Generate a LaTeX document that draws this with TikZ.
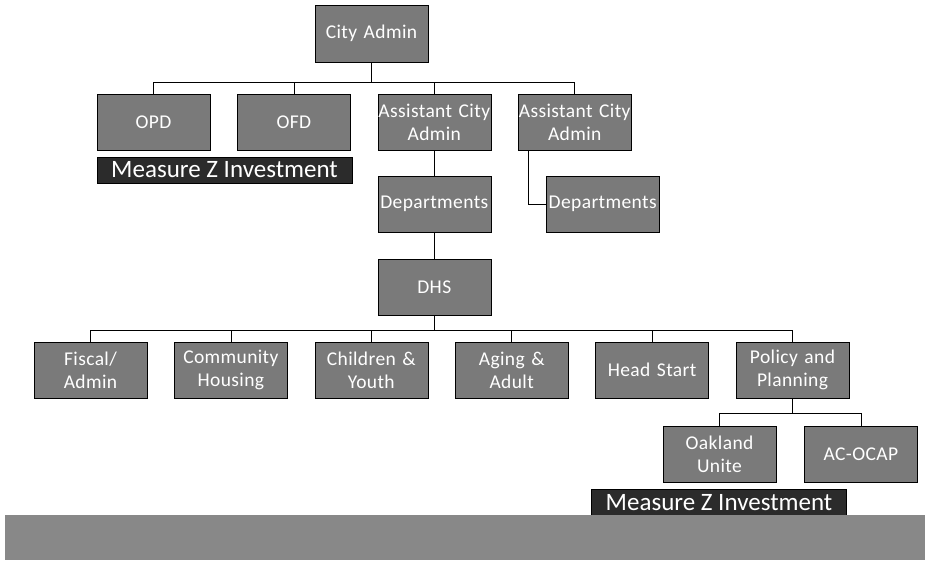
\documentclass[tikz,border=0pt]{standalone}
\usepackage{fontspec}
\setmainfont{Carlito}
\newfontfamily\unitfont[LetterSpace=2]{Carlito}
\usepackage{xcolor}
\usetikzlibrary{positioning}
\definecolor{unitgray}{HTML}{7A7A7A}
\definecolor{funddark}{HTML}{2B2B2B}
\definecolor{bandgray}{HTML}{888888}

\begin{document}
\begin{tikzpicture}[x=1pt, y=-1pt,
    unit/.style={rectangle, draw=black, fill=unitgray, text=white, text width=113pt, minimum height=56pt, inner sep=0pt, align=center, font=\unitfont\fontsize{19.5}{23}\selectfont},
    fund/.style={rectangle, draw=black, fill=funddark, text=white, minimum width=255pt, minimum height=26pt, inner sep=1pt, font=\fontsize{25}{26}\selectfont},
    link/.style={draw=black, line width=0.8pt}
]
    \useasboundingbox (0,0) rectangle (927,562);

    % Top
    \node[unit, minimum height=57pt] (cityadmin) at (371.5,33.5) {City Admin};

    % Second row
    \node[unit] (opd) at (153.5,122.5) {OPD};
    \node[unit, right=27pt of opd] (ofd) {OFD};
    \node[unit, right=27pt of ofd] (acaone) {Assistant City\\Admin};
    \node[unit, right=27pt of acaone] (acatwo) {Assistant City\\Admin};
    \node[fund] (fundone) at (224.5,170) {Measure Z Investment};

    % Departments and DHS
    \node[unit, below=25pt of acaone] (deptone) {Departments};
    \node[unit, right=55pt of deptone] (depttwo) {Departments};
    \node[unit, below=27pt of deptone] (dhs) {DHS};

    % DHS divisions
    \node[unit] (fiscal) at (90.5,370) {Fiscal/\\Admin};
    \node[unit, right=27pt of fiscal] (housing) {Community\\Housing};
    \node[unit, right=27pt of housing] (youth) {Children \&\\Youth};
    \node[unit, right=27pt of youth] (aging) {Aging \&\\Adult};
    \node[unit, right=27pt of aging] (headstart) {Head Start};
    \node[unit, right=27pt of headstart] (policy) {Policy and\\Planning};

    % Policy and Planning units
    \node[unit] (oakland) at (719.5,454.5) {Oakland\\Unite};
    \node[unit, right=28pt of oakland] (acocap) {AC-OCAP};
    \node[fund] (fundtwo) at (719,502.5) {Measure Z Investment};

    % Bottom band
    \fill[bandgray] (5,515) rectangle (925,560);

    % Connectors
    \foreach \n in {opd,ofd,acaone,acatwo}
        \draw[link] (cityadmin.south) -- ++(0,20) -| (\n.north);
    \draw[link] (acaone) -- (deptone);
    \draw[link] (deptone) -- (dhs);
    \draw[link] ([xshift=10pt]acatwo.south west) |- (depttwo.west);
    \foreach \n in {fiscal,housing,youth,aging,headstart,policy}
        \draw[link] (dhs.south) -- ++(0,15) -| (\n.north);
    \foreach \n in {oakland,acocap}
        \draw[link] (policy.south) -- ++(0,15) -| (\n.north);
\end{tikzpicture}
\end{document}
